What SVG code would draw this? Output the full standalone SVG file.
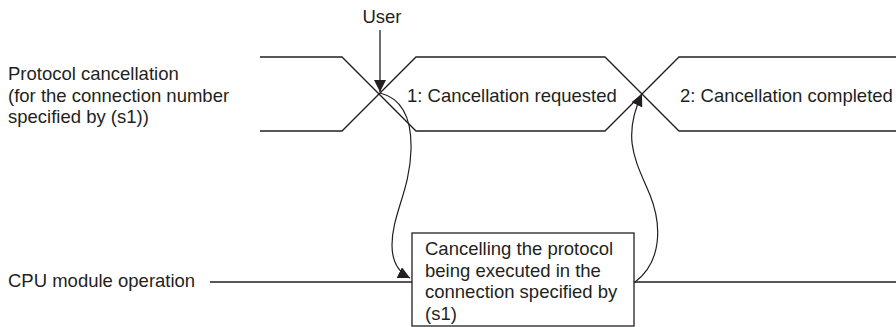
<svg xmlns="http://www.w3.org/2000/svg" width="896" height="327" viewBox="0 0 896 327">
<style>
text{font-family:"Liberation Sans",Arial,sans-serif;font-size:18.5px;fill:#231f20}
.ln{fill:none;stroke:#231f20;stroke-width:1.3}
.cv{fill:none;stroke:#231f20;stroke-width:1.2}
</style>
<defs>
<marker id="ah" viewBox="0 0 12 12" refX="12" refY="6" markerWidth="12" markerHeight="12" markerUnits="userSpaceOnUse" orient="auto">
<path d="M0,0 L12,6 L0,12 Z" fill="#231f20"/>
</marker>
</defs>
<rect width="896" height="327" fill="#fff"/>
<g id="labels">
<text x="8" y="80">Protocol cancellation</text>
<text x="8" y="101.5">(for the connection number</text>
<text x="8" y="123">specified by (s1))</text>
<text x="8" y="287">CPU module operation</text>
</g>
<g id="user">
<text x="382" y="23" text-anchor="middle">User</text>
</g>
<g id="timing">
<path class="ln" d="M260,57 H342 L416,131 H605 L679,57 H896"/>
<path class="ln" d="M260,131 H342 L416,57 H605 L679,131 H896"/>
<text x="407" y="102">1: Cancellation requested</text>
<text x="680" y="102">2: Cancellation completed</text>
</g>
<g id="cpu">
<path class="ln" d="M210,282 H412 M634,282 H896"/>
<rect x="412" y="233" width="222" height="93" fill="#fff" stroke="#231f20" stroke-width="1.3"/>
<text x="425" y="255">Cancelling the protocol</text>
<text x="425" y="276.5">being executed in the</text>
<text x="425" y="298">connection specified by</text>
<text x="425" y="319.5">(s1)</text>
</g>
<g id="connectors">
<path class="ln" d="M380,30 V92" marker-end="url(#ah)"/>
<path class="cv" d="M380,93 C400,98 412,115 411,150 C410,190 392,215 392,245 C392,262 398,272 410,278" marker-end="url(#ah)"/>
<path class="cv" d="M635,282 C662,262 662,225 650,195 C638,165 620,140 642,94" marker-end="url(#ah)"/>
</g>
</svg>
